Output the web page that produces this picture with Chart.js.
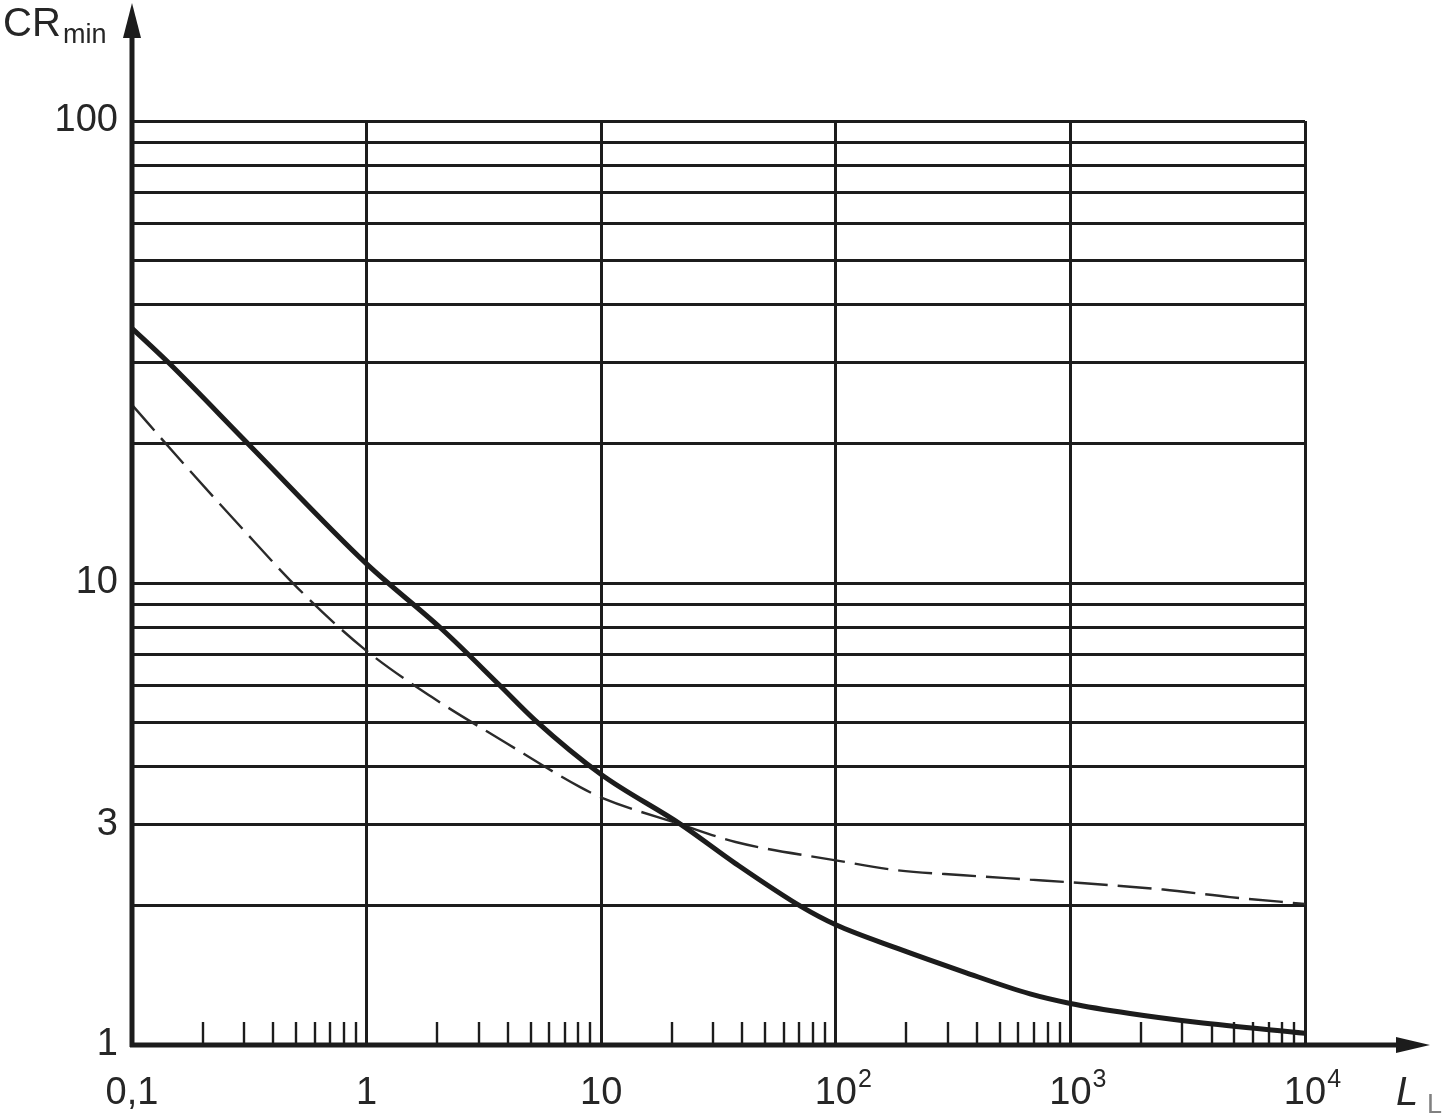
<!DOCTYPE html>
<html>
<head>
<meta charset="utf-8">
<script src="https://cdn.jsdelivr.net/npm/chart.js@4/dist/chart.umd.min.js"></script>
<style>
  html, body { margin: 0; padding: 0; background: #fff; }
  canvas { display: block; }
</style>
</head>
<body>
<canvas id="chartCR" width="1447" height="1116"></canvas>
<script>
// x axis: decades, their labels (base + exponent) and the minor steps inside each decade
const xDecades = [0.1, 1, 10, 100, 1000, 10000]
const xDecadeLabels = ['0,1', '1', '10', '10', '10', '10']
const xExponents = ['', '', '', '2', '3', '4']
const minorSteps = [2, 3, 4, 5, 6, 7, 8, 9]

// y axis grid values and the ones that carry a label
const yGrid = [1, 2, 3, 4, 5, 6, 7, 8, 9, 10, 20, 30, 40, 50, 60, 70, 80, 90, 100]
const yLabelled = [1, 3, 10, 100]

// solid curve
const solidX = [0.1, 0.143, 0.313, 1, 2.09, 3.7, 5.22, 10, 21.9, 37.4, 71.6, 100, 182, 350, 673, 1000, 1795, 3450, 10000]
const solidY = [35.6, 30, 20, 11.0, 7.95, 6.0, 5.05, 3.85, 3.0, 2.47, 1.99, 1.82, 1.62, 1.44, 1.29, 1.23, 1.17, 1.12, 1.06]

// dashed curve
const dashX = [0.1, 0.16, 0.284, 0.51, 0.97, 1.89, 3.95, 8.1, 10.2, 21.9, 37.4, 100, 182, 350, 673, 1000, 2490, 4790, 10000]
const dashY = [24.3, 18.5, 13.4, 9.74, 7.22, 5.67, 4.5, 3.62, 3.42, 3.0, 2.75, 2.51, 2.39, 2.33, 2.28, 2.25, 2.17, 2.09, 2.02]

const INK = '#1c1c1c'
const TEXT = '#262626'
const FONT = '"Liberation Sans", Arial, sans-serif'

const xTicks = []
xDecades.forEach((d, i) => {
  xTicks.push(d)
  if (i < xDecades.length - 1) minorSteps.forEach(m => xTicks.push(+(d * m).toPrecision(6)))
})

const near = (a, b) => Math.abs(Math.log10(a) - Math.log10(b)) < 1e-6
const isDecade = v => xDecades.some(d => near(d, v))
const toPts = (xs, ys) => xs.map((x, i) => ({ x, y: ys[i] }))

// axes with arrows, minor x ticks, exponents and the two axis titles
const axesDeco = {
  id: 'axesDeco',
  afterDraw(chart) {
    const { ctx, chartArea: a, scales: { x } } = chart
    ctx.save()
    ctx.strokeStyle = INK
    ctx.fillStyle = INK

    // minor ticks along the bottom, inside the plot
    ctx.lineWidth = 2.4
    x.ticks.forEach(t => {
      if (isDecade(t.value)) return
      const px = Math.round(x.getPixelForValue(t.value))
      ctx.beginPath(); ctx.moveTo(px, a.bottom); ctx.lineTo(px, a.bottom - 23); ctx.stroke()
    })

    // y axis + arrow
    ctx.lineWidth = 5
    ctx.beginPath(); ctx.moveTo(a.left, a.bottom + 2); ctx.lineTo(a.left, 34); ctx.stroke()
    ctx.beginPath(); ctx.moveTo(a.left, 3); ctx.lineTo(a.left - 9, 38); ctx.lineTo(a.left + 9, 38); ctx.closePath(); ctx.fill()

    // x axis + arrow
    ctx.beginPath(); ctx.moveTo(a.left - 2, a.bottom); ctx.lineTo(1402, a.bottom); ctx.stroke()
    ctx.beginPath(); ctx.moveTo(1430, a.bottom); ctx.lineTo(1396, a.bottom - 8); ctx.lineTo(1396, a.bottom + 8); ctx.closePath(); ctx.fill()

    // exponents of the x labels
    ctx.fillStyle = TEXT
    ctx.textBaseline = 'alphabetic'
    ctx.textAlign = 'left'
    xDecades.forEach((d, i) => {
      if (!xExponents[i]) return
      ctx.font = `38px ${FONT}`
      const w = ctx.measureText(xDecadeLabels[i]).width
      ctx.font = `25px ${FONT}`
      ctx.fillText(xExponents[i], x.getPixelForValue(d) + w / 2 + 1, 1087)
    })

    // axis titles
    ctx.font = `40px ${FONT}`
    ctx.fillText('CR', 3, 36)
    ctx.font = `27px ${FONT}`
    ctx.fillText('min', 63, 43)
    ctx.font = `italic 40px ${FONT}`
    ctx.fillText('L', 1396, 1105)
    ctx.fillStyle = '#808080'
    ctx.font = `27px ${FONT}`
    ctx.fillText('L', 1427, 1113)
    ctx.restore()
  }
}

new Chart(document.getElementById('chartCR'), {
  type: 'line',
  data: {
    datasets: [
      { data: toPts(solidX, solidY), borderColor: INK, borderWidth: 5, pointRadius: 0,
        cubicInterpolationMode: 'monotone', fill: false },
      { data: toPts(dashX, dashY), borderColor: '#2a2a2a', borderWidth: 2.4, borderDash: [34, 10],
        pointRadius: 0, cubicInterpolationMode: 'monotone', fill: false },
    ]
  },
  options: {
    responsive: false, animation: false, devicePixelRatio: 1,
    layout: { padding: { top: 121, right: 142, left: 0, bottom: 0 } },
    plugins: { legend: { display: false }, tooltip: { enabled: false } },
    scales: {
      x: {
        type: 'logarithmic', min: 0.1, max: 10000,
        afterBuildTicks: s => { s.ticks = xTicks.map(v => ({ value: v })) },
        afterFit: s => { s.height = 71 },
        border: { display: false },
        grid: { color: c => isDecade(c.tick.value) ? INK : 'rgba(0,0,0,0)', lineWidth: 3, drawTicks: false },
        ticks: {
          autoSkip: false, maxRotation: 0, minRotation: 0, padding: 26, color: TEXT,
          font: { family: FONT, size: 38 },
          callback: v => {
            const i = xDecades.findIndex(d => near(d, v))
            return i < 0 ? '' : xDecadeLabels[i]
          }
        }
      },
      y: {
        type: 'logarithmic', min: 1, max: 100,
        afterBuildTicks: s => { s.ticks = yGrid.map(v => ({ value: v })) },
        afterFit: s => { s.width = 132 },
        border: { display: false },
        grid: { color: INK, lineWidth: 3, drawTicks: false },
        ticks: {
          autoSkip: false, padding: 14, color: TEXT,
          font: { family: FONT, size: 38 },
          callback: v => yLabelled.some(l => near(l, v)) ? String(v) : ''
        }
      }
    }
  },
  plugins: [axesDeco]
})
</script>
</body>
</html>
